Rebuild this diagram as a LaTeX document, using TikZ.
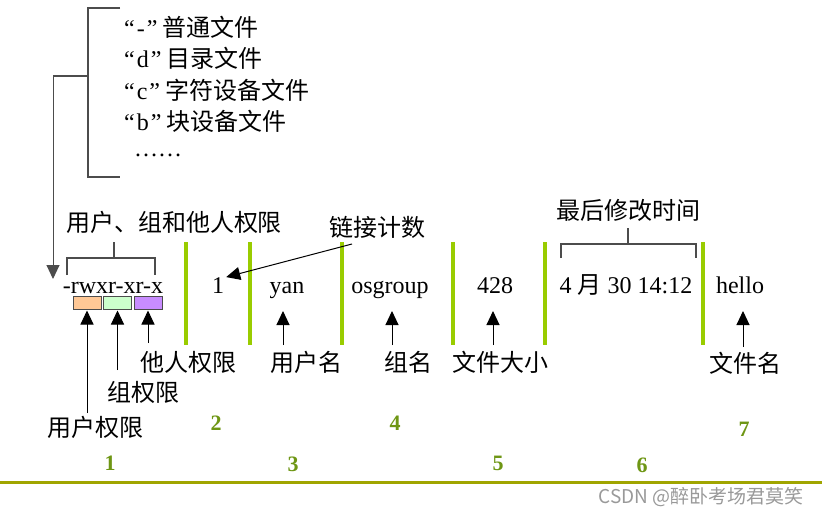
\documentclass[tikz,border=0pt]{standalone}
\usepackage{fontspec}
\setmainfont{Liberation Serif}
\newfontfamily\zh{Noto Sans CJK SC}
\usetikzlibrary{arrows.meta,calc}
\definecolor{barg}{RGB}{153,204,0}
\definecolor{numg}{RGB}{110,150,20}
\definecolor{oliveline}{RGB}{160,165,0}
\definecolor{peach}{RGB}{255,200,150}
\definecolor{mint}{RGB}{204,255,204}
\definecolor{lilac}{RGB}{200,140,255}
\begin{document}
\begin{tikzpicture}[x=1pt,y=-1pt,
 txt/.style={inner sep=0pt, font=\fontsize{24}{28}\selectfont},
 fld/.style={txt, anchor=base},
 num/.style={inner sep=0pt, font=\fontsize{22}{26}\selectfont\bfseries, text=numg},
 brk/.style={draw=black!70, line width=1.2pt},
 arr/.style={-{Triangle[length=14pt,width=13pt]}, line width=1pt},
 bar/.style={draw=barg, line width=4pt},
 pbox/.style={draw=black!70, line width=1pt, minimum width=28pt, minimum height=13pt, inner sep=0pt}]
\useasboundingbox (0,0) rectangle (822,516);

% file type list
\node[txt, anchor=west] (t1) at (124,27) {“\hspace{2pt}-\hspace{2pt}”\hspace{5pt}{\zh 普通文件}};
\node[txt, anchor=west] (t2) at (124,58) {“\hspace{2pt}d\hspace{2pt}”\hspace{5pt}{\zh 目录文件}};
\node[txt, anchor=west] (t3) at (124,90) {“\hspace{2pt}c\hspace{2pt}”\hspace{5pt}{\zh 字符设备文件}};
\node[txt, anchor=west] (t4) at (124,121) {“\hspace{2pt}b\hspace{2pt}”\hspace{5pt}{\zh 块设备文件}};
\node[txt, anchor=base west] (t5) at (134,157) {……};
\coordinate (bt) at (120,8);
\coordinate (bb) at (120,177);
\coordinate (bm) at (88,76);
\coordinate (bl) at (53,76);
\draw[brk] (bt) -- (88,8) -- (88,177) -- (bb);
\draw[brk] (bm) -- (bl);

% permission string
\node[fld] (perm) at (113,293) {-rwxr-xr-x};
\draw[arr, draw=black!70] (bl) -- (53,279);
\node[txt] (ugo) at (174,222) {\zh 用户、组和他人权限};
\draw[brk] (67,275) -- (67,258) -- (155,258) -- (155,275);
\draw[brk] (114,258) -- (114,242);

\node[pbox, fill=peach] (b1) at (87,302.5) {};
\node[pbox, fill=mint] (b2) at (117.5,302.5) {};
\node[pbox, fill=lilac] (b3) at (148,302.5) {};

\node[txt] (lo) at (188,362) {\zh 他人权限};
\node[txt] (lg) at (143,392) {\zh 组权限};
\node[txt] (lu) at (95,427) {\zh 用户权限};
\draw[arr] (b1.south |- 0,413) -- ([yshift=-1pt]b1.south);
\draw[arr] (b2.south |- 0,370) -- ([yshift=-1pt]b2.south);
\draw[arr] (b3.south |- 0,343) -- ([yshift=-1pt]b3.south);

% separators
\foreach \x in {186,250,342,453,545,703}
  \draw[bar] (\x,242) -- (\x,345);

% fields
\node[fld] (one) at (218,293) {1};
\node[fld] (yan) at (287,293) {yan};
\node[fld] (grp) at (390,293) {osgroup};
\node[fld] (size) at (495,293) {428};
\node[fld] (time) at (626,293) {4 {\zh 月} 30 14:12};
\node[fld] (name) at (740,293) {hello};

% link count
\node[txt] (lk) at (377,227) {\zh 链接计数};
\coordinate (lks) at (352,244);
\draw[arr] (lks) -- ($(one.east)+(2,-8)$);

% labels under fields
\node[txt] (lun) at (306,362) {\zh 用户名};
\node[txt] (lgn) at (408,362) {\zh 组名};
\node[txt] (lsz) at (500,362) {\zh 文件大小};
\node[txt] (lfn) at (745,363) {\zh 文件名};
\draw[arr] (283,345) -- (283,311);
\draw[arr] (392,345) -- (392,311);
\draw[arr] (493,345) -- (493,311);
\draw[arr] (743,347) -- (743,311);

% last modified time
\node[txt] (lm) at (628,210) {\zh 最后修改时间};
\draw[brk] (561,258) -- (561,244) -- (696,244) -- (696,258);
\draw[brk] (628,244) -- (628,228);

% numbers
\node[num] (n1) at (110,463) {1};
\node[num] (n2) at (216,423) {2};
\node[num] (n3) at (293,464) {3};
\node[num] (n4) at (395,423) {4};
\node[num] (n5) at (498,463) {5};
\node[num] (n6) at (642,465) {6};
\node[num] (n7) at (744,429) {7};

\draw[draw=oliveline, line width=3pt] (0,482) -- (822,482);

\node[inner sep=0pt, text=black!40, font=\zh\fontsize{19}{22}\selectfont] (wm) at (701,497) {CSDN @醉卧考场君莫笑};
\end{tikzpicture}
\end{document}
